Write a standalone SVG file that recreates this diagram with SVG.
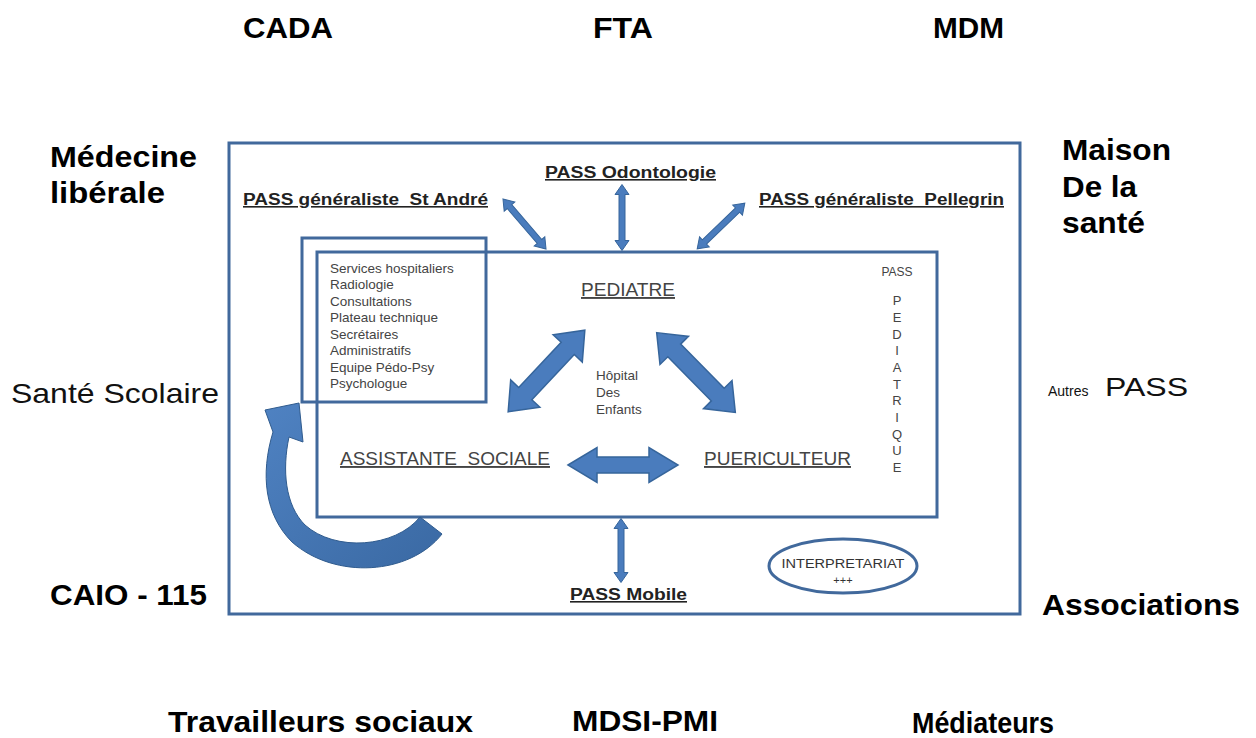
<svg xmlns="http://www.w3.org/2000/svg" width="1256" height="738" viewBox="0 0 1256 738">
<style>
.out{font-family:"Liberation Sans",Arial,sans-serif;font-weight:bold;font-size:29px;fill:#000}
.outr{font-family:"Liberation Sans",Arial,sans-serif;font-size:28px;fill:#111}
.pass{font-family:"Liberation Sans",Arial,sans-serif;font-weight:bold;font-size:16px;fill:#222;text-decoration:underline}
.role{font-family:"Liberation Sans",Arial,sans-serif;font-size:19px;fill:#444;text-decoration:underline}
.sm{font-family:"Liberation Sans",Arial,sans-serif;font-size:13.5px;fill:#444}
.box{fill:none;stroke:#41699c;stroke-width:3}
.big{fill:#4a7cbd;stroke:#36659b;stroke-width:1.5}
.thin{fill:#4a7cbd;stroke:#36659b;stroke-width:1}
</style>
<defs>
<linearGradient id="cg" x1="0" y1="0" x2="1" y2="1">
<stop offset="0" stop-color="#4f82c2"/>
<stop offset="1" stop-color="#3a69a3"/>
</linearGradient>
</defs>
<rect width="1256" height="738" fill="#fff"/>

<g id="outer-labels">
<text class="out" x="243" y="38" textLength="90" lengthAdjust="spacingAndGlyphs">CADA</text>
<text class="out" x="593" y="38" textLength="60" lengthAdjust="spacingAndGlyphs">FTA</text>
<text class="out" x="933" y="38" textLength="71" lengthAdjust="spacingAndGlyphs">MDM</text>
<text class="out" x="50" y="167" textLength="147" lengthAdjust="spacingAndGlyphs">Médecine</text>
<text class="out" x="50" y="203" textLength="115" lengthAdjust="spacingAndGlyphs">libérale</text>
<text class="out" x="1062" y="160" textLength="109" lengthAdjust="spacingAndGlyphs">Maison</text>
<text class="out" x="1062" y="197" textLength="75" lengthAdjust="spacingAndGlyphs">De la</text>
<text class="out" x="1062" y="233" textLength="83" lengthAdjust="spacingAndGlyphs">santé</text>
<text class="outr" x="11" y="403" textLength="208" lengthAdjust="spacingAndGlyphs">Santé Scolaire</text>
<text x="1048" y="396" style="font-family:'Liberation Sans',Arial,sans-serif;font-size:14px;fill:#111">Autres</text>
<text class="outr" x="1105" y="396" style="font-size:26px" textLength="83" lengthAdjust="spacingAndGlyphs">PASS</text>
<text class="out" x="50" y="605" textLength="157" lengthAdjust="spacingAndGlyphs">CAIO - 115</text>
<text class="out" x="1042" y="615" textLength="198" lengthAdjust="spacingAndGlyphs">Associations</text>
<text class="out" x="168" y="732" textLength="305" lengthAdjust="spacingAndGlyphs">Travailleurs sociaux</text>
<text class="out" x="572" y="731" textLength="146" lengthAdjust="spacingAndGlyphs">MDSI-PMI</text>
<text class="out" x="912" y="733" textLength="142" lengthAdjust="spacingAndGlyphs">Médiateurs</text>
</g>

<g id="outer-box"><rect class="box" x="229" y="143" width="791" height="471"/></g>
<g id="inner-box"><rect class="box" x="317" y="252" width="620" height="265"/></g>
<g id="services-box">
<rect class="box" x="302" y="238" width="184" height="164"/>
<text class="sm" x="330" y="273">Services hospitaliers</text>
<text class="sm" x="330" y="289">Radiologie</text>
<text class="sm" x="330" y="306">Consultations</text>
<text class="sm" x="330" y="322">Plateau technique</text>
<text class="sm" x="330" y="339">Secrétaires</text>
<text class="sm" x="330" y="355">Administratifs</text>
<text class="sm" x="330" y="372">Equipe Pédo-Psy</text>
<text class="sm" x="330" y="388">Psychologue</text>
</g>

<g id="pass-st-andre"><text class="pass" x="243" y="205" textLength="245" lengthAdjust="spacingAndGlyphs">PASS généraliste&#160; St André</text></g>
<g id="pass-odontologie"><text class="pass" x="545" y="178" textLength="171" lengthAdjust="spacingAndGlyphs">PASS Odontologie</text></g>
<g id="pass-pellegrin"><text class="pass" x="759" y="205" textLength="245" lengthAdjust="spacingAndGlyphs">PASS généraliste&#160; Pellegrin</text></g>
<g id="pass-mobile"><text class="pass" x="570" y="600" textLength="117" lengthAdjust="spacingAndGlyphs">PASS Mobile</text></g>

<g id="pediatre"><text class="role" x="581" y="296" textLength="94" lengthAdjust="spacingAndGlyphs">PEDIATRE</text></g>
<g id="assistante"><text class="role" x="340" y="465" textLength="210" lengthAdjust="spacingAndGlyphs">ASSISTANTE&#160; SOCIALE</text></g>
<g id="puericulteur"><text class="role" x="704" y="465" textLength="147" lengthAdjust="spacingAndGlyphs">PUERICULTEUR</text></g>
<g id="hopital">
<text class="sm" x="596" y="380">Hôpital</text>
<text class="sm" x="596" y="397">Des</text>
<text class="sm" x="596" y="414">Enfants</text>
</g>
<g id="pass-pediatrique" style="font-family:'Liberation Sans',Arial,sans-serif;fill:#444" text-anchor="middle">
<text x="897" y="276" font-size="12">PASS</text>
<g font-size="13">
<text x="897" y="305">P</text><text x="897" y="322">E</text><text x="897" y="339">D</text><text x="897" y="355">I</text><text x="897" y="372">A</text><text x="897" y="389">T</text><text x="897" y="405">R</text><text x="897" y="422">I</text><text x="897" y="439">Q</text><text x="897" y="455">U</text><text x="897" y="472">E</text>
</g>
</g>
<g id="interpretariat">
<ellipse cx="843" cy="566" rx="74" ry="27" fill="none" stroke="#41699c" stroke-width="3"/>
<text x="843" y="568" text-anchor="middle" style="font-family:'Liberation Sans',Arial,sans-serif;font-size:12.5px;fill:#333" textLength="123" lengthAdjust="spacingAndGlyphs">INTERPRETARIAT</text>
<text x="843" y="584" text-anchor="middle" style="font-family:'Liberation Sans',Arial,sans-serif;font-size:11px;fill:#333">+++</text>
</g>

<g id="connectors">
<path class="thin" transform="translate(524.5,224) rotate(49.3)" d="M-33,0 L-23,-7 L-23,-3 L23,-3 L23,-7 L33,0 L23,7 L23,3 L-23,3 L-23,7 Z"/>
<path class="thin" transform="translate(622,217.5) rotate(90)" d="M-33,0 L-23,-7 L-23,-3 L23,-3 L23,-7 L33,0 L23,7 L23,3 L-23,3 L-23,7 Z"/>
<path class="thin" transform="translate(721,226) rotate(136.2)" d="M-33,0 L-23,-7 L-23,-3 L23,-3 L23,-7 L33,0 L23,7 L23,3 L-23,3 L-23,7 Z"/>
<path class="thin" transform="translate(621,550.5) rotate(90)" d="M-32,0 L-22,-7 L-22,-3 L22,-3 L22,-7 L32,0 L22,7 L22,3 L-22,3 L-22,7 Z"/>
<path class="big" transform="translate(546.5,371) rotate(-46.8)" d="M-56,0 L-31,-20 L-31,-9 L31,-9 L31,-20 L56,0 L31,20 L31,9 L-31,9 L-31,20 Z"/>
<path class="big" transform="translate(696,372.5) rotate(45.4)" d="M-56,0 L-31,-20 L-31,-9 L31,-9 L31,-20 L56,0 L31,20 L31,9 L-31,9 L-31,20 Z"/>
<path class="big" transform="translate(623,465)" d="M-55,0 L-26,-17.5 L-26,-8 L26,-8 L26,-17.5 L55,0 L26,17.5 L26,8 L-26,8 L-26,17.5 Z"/>
<path fill="url(#cg)" stroke="#2f5b8e" stroke-width="1" d="M420,517 C395,548 335,552 305,525 C285,505 282,470 289,437 L303,442 L299,403 L265,410 L273,432 C260,475 265,515 292,542 C335,580 410,575 442,534 Z"/>
</g>
</svg>
